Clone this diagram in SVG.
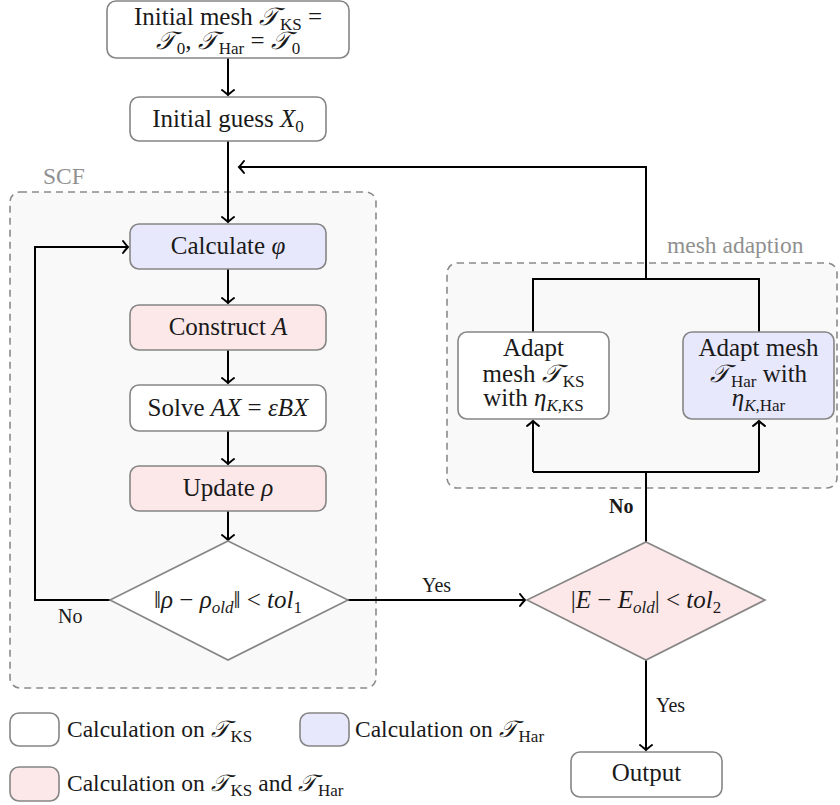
<svg xmlns="http://www.w3.org/2000/svg" width="840" height="805" viewBox="0 0 840 805">
<defs>
<style>
.bx{stroke:#858585;stroke-width:1.6}
.w{fill:#ffffff}
.b{fill:#e8e8fd}
.p{fill:#fde8e9}
.grp{fill:#f9f9f9;stroke:#8a8a8a;stroke-width:1.6;stroke-dasharray:7 5}
text{fill:#1a1a1a}
.t{font-size:25px;text-anchor:middle}
.lab{font-size:20px}
.leg{font-size:23.5px}
.gl{font-size:23.5px;fill:#909090}
.m{font-style:italic}
.s{font-size:17px}
.c{font-style:italic}
.cn{stroke:#000;stroke-width:2;fill:none}
</style>
<marker id="arr" viewBox="-7 -8 9 16" markerWidth="9" markerHeight="16" refX="0" refY="0" orient="auto" markerUnits="userSpaceOnUse">
<path d="M-5,-6 Q-1.5,-1.5 0,0 Q-1.5,1.5 -5,6" fill="none" stroke="#000" stroke-width="2" stroke-linecap="round"/>
</marker>
</defs>
<rect width="840" height="805" fill="#fff"/>
<g font-family="'Liberation Serif', 'Times New Roman', 'DejaVu Serif', serif">
<g id="scf-group">
<rect class="grp" x="10" y="192" width="366" height="496" rx="10"/>
<text class="gl" x="43" y="184">SCF</text>
</g>
<g id="mesh-adaption-group">
<rect class="grp" x="447" y="263" width="390" height="225" rx="10"/>
<text class="gl" x="667" y="253">mesh adaption</text>
</g>

<g id="connectors">
<path class="cn" d="M228,58 V95" marker-end="url(#arr)"/>
<path class="cn" d="M228,141 V222" marker-end="url(#arr)"/>
<path class="cn" d="M646,279 V167 H239" marker-end="url(#arr)"/>
<path class="cn" d="M533,332 V279 H759 V332"/>
<path class="cn" d="M228,269 V303" marker-end="url(#arr)"/>
<path class="cn" d="M228,350 V383" marker-end="url(#arr)"/>
<path class="cn" d="M228,431 V464" marker-end="url(#arr)"/>
<path class="cn" d="M228,511 V540" marker-end="url(#arr)"/>
<path class="cn" d="M110,600 H35 V247 H128" marker-end="url(#arr)"/>
<path class="cn" d="M348,600 H525" marker-end="url(#arr)"/>
<path class="cn" d="M646,542 V472"/>
<path class="cn" d="M533,472 H759"/>
<path class="cn" d="M533,472 V421" marker-end="url(#arr)"/>
<path class="cn" d="M759,472 V421" marker-end="url(#arr)"/>
<path class="cn" d="M646,660 V750" marker-end="url(#arr)"/>
<text class="lab" x="58" y="623">No</text>
<text class="lab" x="422" y="592">Yes</text>
<text class="lab" x="609" y="513" font-weight="bold">No</text>
<text class="lab" x="656" y="712">Yes</text>
</g>

<g id="init-mesh">
<rect class="bx w" x="107" y="1" width="242" height="57" rx="9"/>
<text class="t" x="228" y="25">Initial mesh <tspan class="c">𝒯</tspan><tspan class="s" dx="2" dy="5">KS</tspan><tspan dy="-5"> =</tspan></text>
<text class="t" x="228" y="49"><tspan class="c">𝒯</tspan><tspan class="s" dx="2" dy="5">0</tspan><tspan dy="-5">, </tspan><tspan class="c">𝒯</tspan><tspan class="s" dx="2" dy="5">Har</tspan><tspan dy="-5"> = </tspan><tspan class="c">𝒯</tspan><tspan class="s" dx="2" dy="5">0</tspan></text>
</g>
<g id="initial-guess">
<rect class="bx w" x="130" y="97" width="196" height="44" rx="9"/>
<text class="t" x="228" y="127">Initial guess <tspan class="m">X</tspan><tspan class="s" dy="5">0</tspan></text>
</g>
<g id="calculate-phi">
<rect class="bx b" x="130" y="224" width="196" height="45" rx="9"/>
<text class="t" x="228" y="254">Calculate <tspan class="m">φ</tspan></text>
</g>
<g id="construct-a">
<rect class="bx p" x="130" y="305" width="196" height="45" rx="9"/>
<text class="t" x="228" y="335">Construct <tspan class="m">A</tspan></text>
</g>
<g id="solve">
<rect class="bx w" x="130" y="385" width="196" height="46" rx="9"/>
<text class="t" x="228" y="416">Solve <tspan class="m">AX</tspan> = <tspan class="m">εBX</tspan></text>
</g>
<g id="update-rho">
<rect class="bx p" x="130" y="466" width="196" height="45" rx="9"/>
<text class="t" x="228" y="496">Update <tspan class="m">ρ</tspan></text>
</g>
<g id="check-rho">
<polygon class="bx w" points="228,541 348,600 228,660 110,600"/>
<text class="t" x="228" y="608">‖<tspan class="m">ρ</tspan> − <tspan class="m">ρ</tspan><tspan class="s m" dy="5">old</tspan><tspan dy="-5">‖ &lt; </tspan><tspan class="m">tol</tspan><tspan class="s" dy="5">1</tspan></text>
</g>
<g id="check-energy">
<polygon class="bx p" points="646,542 765,600 646,660 527,600"/>
<text class="t" x="646" y="608">|<tspan class="m">E</tspan> − <tspan class="m">E</tspan><tspan class="s m" dy="5">old</tspan><tspan dy="-5">| &lt; </tspan><tspan class="m">tol</tspan><tspan class="s" dy="5">2</tspan></text>
</g>
<g id="adapt-ks">
<rect class="bx w" x="458" y="332" width="151" height="87" rx="9"/>
<text class="t" x="533.5" y="356">Adapt</text>
<text class="t" x="533.5" y="382">mesh <tspan class="c">𝒯</tspan><tspan class="s" dx="2" dy="5">KS</tspan></text>
<text class="t" x="533.5" y="406">with <tspan class="m">η</tspan><tspan class="s" dy="5"><tspan class="m">K</tspan>,KS</tspan></text>
</g>
<g id="adapt-har">
<rect class="bx b" x="683" y="332" width="151" height="87" rx="9"/>
<text class="t" x="758.5" y="356">Adapt mesh</text>
<text class="t" x="758.5" y="382"><tspan class="c">𝒯</tspan><tspan class="s" dx="2" dy="5">Har</tspan><tspan dy="-5"> with</tspan></text>
<text class="t" x="758.5" y="406"><tspan class="m">η</tspan><tspan class="s" dy="5"><tspan class="m">K</tspan>,Har</tspan></text>
</g>
<g id="output">
<rect class="bx w" x="571" y="752" width="151" height="45" rx="9"/>
<text class="t" x="646.5" y="781">Output</text>
</g>

<g id="legend">
<rect class="bx w" x="10" y="713" width="49" height="33" rx="9"/>
<text class="leg" x="67" y="737">Calculation on <tspan class="c">𝒯</tspan><tspan class="s" dx="2" dy="5">KS</tspan></text>
<rect class="bx b" x="300" y="713" width="49" height="33" rx="9"/>
<text class="leg" x="355" y="737">Calculation on <tspan class="c">𝒯</tspan><tspan class="s" dx="2" dy="5">Har</tspan></text>
<rect class="bx p" x="10" y="767" width="49" height="34" rx="9"/>
<text class="leg" x="67" y="791">Calculation on <tspan class="c">𝒯</tspan><tspan class="s" dx="2" dy="5">KS</tspan><tspan dy="-5"> and </tspan><tspan class="c">𝒯</tspan><tspan class="s" dx="2" dy="5">Har</tspan></text>
</g>
</g>
</svg>
